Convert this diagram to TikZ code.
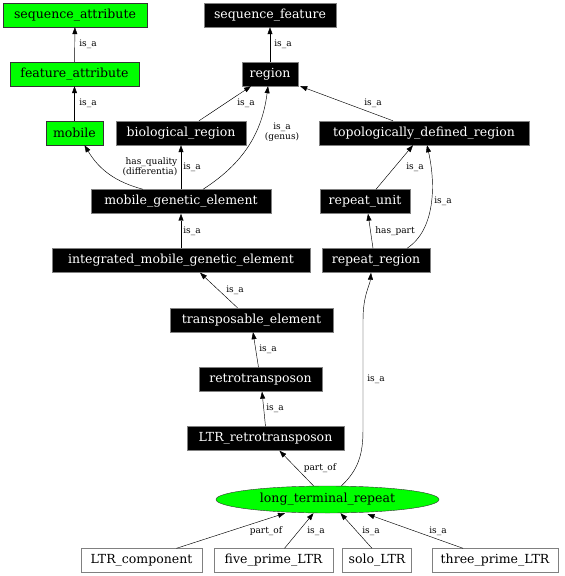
\documentclass[tikz,border=0pt]{standalone}
\usepackage{fontspec}
\setmainfont{DejaVu Serif}
\usepackage{xcolor}
\usepackage{tikz}
\usetikzlibrary{positioning, arrows.meta, shapes.geometric}
\definecolor{termgreen}{HTML}{00FF00}
\definecolor{boxgray}{HTML}{808080}

\begin{document}
\begin{tikzpicture}[x=1pt, y=-1pt,
    term/.style={draw=boxgray, fill=black, text=white, font=\fontsize{12.5}{14}\selectfont,
                 inner xsep=6pt, inner ysep=0pt, minimum height=24pt},
    attr/.style={term, fill=termgreen, draw=black!80, text=black},
    leaf/.style={term, fill=white, text=black},
    rel/.style={-{Triangle[length=7pt, width=5pt]}, line width=0.45pt},
    lbl/.style={font=\fontsize{9}{9.5}\selectfont, inner sep=0pt, align=center}]
    \useasboundingbox (0,0) rectangle (565,576);

    % upper part
    \node[attr, minimum width=144pt] (seqattr) at (75,15) {sequence\_attribute};
    \node[term, minimum width=132pt] (seqfeat) at (270,15) {sequence\_feature};
    \node[attr, minimum width=129pt] (featattr) at (74.5,74) {feature\_attribute};
    \node[term, minimum width=56pt] (region) at (270,74) {region};
    \node[attr, minimum width=57pt] (mobile) at (74.5,133) {mobile};
    \node[term, minimum width=130pt] (bioreg) at (181,133) {biological\_region};
    \node[term, minimum width=210pt] (topreg) at (424,133) {topologically\_defined\_region};
    \node[term, minimum width=180pt] (mge) at (181,201.5) {mobile\_genetic\_element};
    \node[term, minimum width=90pt] (repunit) at (365,201.5) {repeat\_unit};
    \node[term, minimum width=258pt] (imge) at (181,260.5) {integrated\_mobile\_genetic\_element};
    \node[term, minimum width=108pt] (represion) at (376,260.5) {repeat\_region};
    \node[term, minimum width=163pt] (transel) at (251.5,320) {transposable\_element};
    \node[term, minimum width=123pt] (retro) at (260.5,379.5) {retrotransposon};
    \node[term, minimum width=157pt] (ltrretro) at (265.5,438.5) {LTR\_retrotransposon};

    % long terminal repeat and its children
    \node[ellipse, draw=black!80, fill=termgreen, font=\fontsize{12.5}{14}\selectfont,
          minimum width=223pt, minimum height=27pt, inner sep=0pt] (ltr) at (327.5,499.5) {long\_terminal\_repeat};
    \node[leaf, minimum width=121pt] (ltrcomp) at (141.5,560.5) {LTR\_component};
    \node[leaf, minimum width=119pt] (fiveltr) at (273.5,560.5) {five\_prime\_LTR};
    \node[leaf, minimum width=64pt] (sololtr) at (377,560.5) {solo\_LTR};
    \node[leaf, minimum width=126pt] (threeltr) at (495,560.5) {three\_prime\_LTR};

    % relations
    \draw[rel] (featattr) -- (seqattr) node[lbl] at (88,44) {is\_a};
    \draw[rel] (mobile) -- (featattr) node[lbl] at (88,103) {is\_a};
    \draw[rel] (region) -- (seqfeat) node[lbl] at (283,44) {is\_a};
    \draw[rel] ([xshift=18pt]bioreg.north) -- ([xshift=-19pt]region.south) node[lbl] at (246,103) {is\_a};
    \draw[rel] ([xshift=-31pt]topreg.north) -- ([xshift=2pt]region.south east) node[lbl] at (373,103) {is\_a};
    \draw[rel] ([xshift=-38pt]mge.north) to[bend left=22] ([xshift=10pt]mobile.south)
        node[lbl, align=right] at (150,167) {has\_quality\\(differentia)};
    \draw[rel] (mge) -- (bioreg) node[lbl] at (192,167) {is\_a};
    \draw[rel] ([xshift=22pt]mge.north) to[bend right=25] ([xshift=-2pt]region.south)
        node[lbl] at (282,132) {is\_a\\(genus)};
    \draw[rel] (imge) -- (mge) node[lbl] at (192,231) {is\_a};
    \draw[rel] ([xshift=-14pt]transel.north) -- ([xshift=19pt]imge.south) node[lbl] at (235,290) {is\_a};
    \draw[rel] ([xshift=-2pt]retro.north) -- ([xshift=1.5pt]transel.south) node[lbl] at (268,349) {is\_a};
    \draw[rel] ([xshift=0pt]ltrretro.north) -- ([xshift=1.5pt]retro.south) node[lbl] at (275,408) {is\_a};
    \draw[rel] ([xshift=-14pt]ltr.north) -- ([xshift=14pt]ltrretro.south) node[lbl] at (320,468) {part\_of};
    \draw[rel] ([xshift=14pt]ltr.north) .. controls (358,470) and (363,455) .. (363,430)
        -- (363,320) .. controls (363,295) and (370,285) .. ([xshift=-5pt]represion.south)
        node[lbl] at (376,379) {is\_a};
    \draw[rel] ([xshift=-3pt]represion.north) -- ([xshift=3pt]repunit.south) node[lbl] at (395,231) {has\_part};
    \draw[rel] ([xshift=11pt]repunit.north) -- ([xshift=-11pt]topreg.south) node[lbl] at (415,167) {is\_a};
    \draw[rel] ([xshift=31pt]represion.north) .. controls (435,230) and (436,185) .. ([xshift=3pt]topreg.south)
        node[lbl] at (443,201) {is\_a};
    \draw[rel] ([xshift=35pt]ltrcomp.north) -- (ltr.south -| 285,0) node[lbl] at (266,531) {part\_of};
    \draw[rel] ([xshift=11pt]fiveltr.north) -- ([xshift=-14pt]ltr.south) node[lbl] at (316,531) {is\_a};
    \draw[rel] ([xshift=-5pt]sololtr.north) -- ([xshift=13pt]ltr.south) node[lbl] at (371,531) {is\_a};
    \draw[rel] ([xshift=-32pt]threeltr.north) -- ([xshift=40pt,yshift=-1pt]ltr.south) node[lbl] at (438,531) {is\_a};
\end{tikzpicture}
\end{document}
